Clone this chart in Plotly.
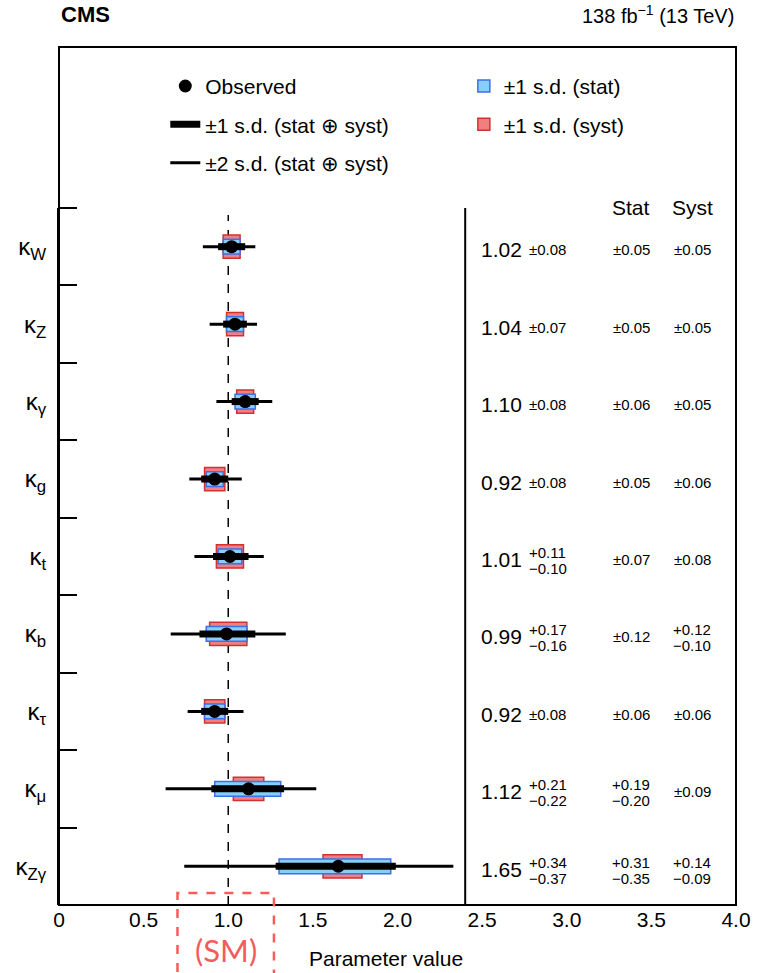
import plotly.graph_objects as go

# ---------------- data ----------------
labels = ["κ<sub>W</sub>", "κ<sub>Z</sub>", "κ<sub>γ</sub>", "κ<sub>g</sub>", "κ<sub>t</sub>",
          "κ<sub>b</sub>", "κ<sub>τ</sub>", "κ<sub>μ</sub>", "κ<sub>Zγ</sub>"]
best = [1.02, 1.04, 1.10, 0.92, 1.01, 0.99, 0.92, 1.12, 1.65]
tot_hi = [0.08, 0.07, 0.08, 0.08, 0.11, 0.17, 0.08, 0.21, 0.34]
tot_lo = [0.08, 0.07, 0.08, 0.08, 0.10, 0.16, 0.08, 0.22, 0.37]
stat_hi = [0.05, 0.05, 0.06, 0.05, 0.07, 0.12, 0.06, 0.19, 0.31]
stat_lo = [0.05, 0.05, 0.06, 0.05, 0.07, 0.12, 0.06, 0.20, 0.35]
syst_hi = [0.05, 0.05, 0.05, 0.06, 0.08, 0.12, 0.06, 0.09, 0.14]
syst_lo = [0.05, 0.05, 0.05, 0.06, 0.08, 0.10, 0.06, 0.09, 0.09]
two_sd_lo = [0.85, 0.89, 0.93, 0.77, 0.80, 0.66, 0.76, 0.63, 0.74]
two_sd_hi = [1.16, 1.17, 1.26, 1.08, 1.21, 1.34, 1.09, 1.52, 2.33]
x_tick_vals = [0, 0.5, 1.0, 1.5, 2.0, 2.5, 3.0, 3.5, 4.0]
x_tick_text = ["0", "0.5", "1.0", "1.5", "2.0", "2.5", "3.0", "3.5", "4.0"]
major_tick_vals = [0, 0.5, 1.0, 1.5, 2.0]
minor_tick_vals = [0.1, 0.2, 0.3, 0.4, 0.6, 0.7, 0.8, 0.9, 1.1, 1.2, 1.3, 1.4,
                   1.6, 1.7, 1.8, 1.9, 2.1, 2.2, 2.3]
sm_value = 1.0
pad_edge = 2.4
sm_band = [0.70, 1.27]

FONT = "Liberation Sans, Arial, Helvetica, sans-serif"

rows = list(range(len(labels)))                 # row index of each parameter
row_boundaries = [r - 0.5 for r in rows]        # tick marks between rows


def segments(lo, hi):
    xs, ys = [], []
    for l, h, r in zip(lo, hi, rows):
        xs += [l, h, None]
        ys += [r, r, None]
    return xs, ys


fig = go.Figure()

# syst boxes (red)
fig.add_trace(go.Bar(
    y=rows, x=[h + l for h, l in zip(syst_hi, syst_lo)],
    base=[b - l for b, l in zip(best, syst_lo)], orientation="h", width=0.30,
    marker=dict(color="#f08080", line=dict(color="#d03232", width=1.5)),
    name="±1 s.d. (syst)", legend="legend2", legendrank=2, legendgroup="syst",
    hoverinfo="skip"))
# stat boxes (blue)
fig.add_trace(go.Bar(
    y=rows, x=[h + l for h, l in zip(stat_hi, stat_lo)],
    base=[b - l for b, l in zip(best, stat_lo)], orientation="h", width=0.19,
    marker=dict(color="#87cefa", line=dict(color="#3d6fe8", width=1.5)),
    name="±1 s.d. (stat)", legend="legend2", legendrank=1, legendgroup="stat",
    hoverinfo="skip"))
# +-2 sd
x2s, y2s = segments(two_sd_lo, two_sd_hi)
fig.add_trace(go.Scatter(x=x2s, y=y2s, mode="lines", line=dict(color="black", width=3),
                         name="±2 s.d. (stat ⊕ syst)", legendrank=3, legendgroup="two",
                         hoverinfo="skip"))
# +-1 sd
x1s, y1s = segments([b - l for b, l in zip(best, tot_lo)], [b + h for b, h in zip(best, tot_hi)])
fig.add_trace(go.Scatter(x=x1s, y=y1s, mode="lines", line=dict(color="black", width=7),
                         name="±1 s.d. (stat ⊕ syst)", legendrank=2, legendgroup="one",
                         hoverinfo="skip"))
# observed
fig.add_trace(go.Scatter(x=best, y=rows, mode="markers", marker=dict(size=13, color="black"),
                         name="Observed", legendrank=1, legendgroup="obs"))


def fmt(v):
    return f"{v:.2f}"


ann = []
X_VAL, X_ERR, X_STAT, X_SYST = 2.745, 2.768, 3.38, 3.74


def add_err(x, hi, lo, r, anchor, size):
    if abs(hi - lo) < 1e-9:
        ann.append(dict(x=x, y=r, xref="x", yref="y", text="±" + fmt(hi), showarrow=False,
                        xanchor=anchor, yanchor="middle", yshift=-3,
                        font=dict(size=size, family=FONT, color="black")))
    else:
        ann.append(dict(x=x, y=r, xref="x", yref="y", text="+" + fmt(hi), showarrow=False,
                        xanchor=anchor, yanchor="middle", yshift=4,
                        font=dict(size=size, family=FONT, color="black")))
        ann.append(dict(x=x, y=r, xref="x", yref="y", text="−" + fmt(lo), showarrow=False,
                        xanchor=anchor, yanchor="middle", yshift=-12,
                        font=dict(size=size, family=FONT, color="black")))


for r, b in zip(rows, best):
    ann.append(dict(x=X_VAL, y=r, xref="x", yref="y", text=fmt(b), showarrow=False,
                    xanchor="right", yanchor="middle", yshift=-3,
                    font=dict(size=21, family=FONT, color="black")))
    add_err(X_ERR, tot_hi[r], tot_lo[r], r, "left", 15)
    add_err(X_STAT, stat_hi[r], stat_lo[r], r, "center", 15)
    add_err(X_SYST, syst_hi[r], syst_lo[r], r, "center", 15)

ann.append(dict(x=X_STAT, y=row_boundaries[0], xref="x", yref="y", text="Stat", showarrow=False,
                xanchor="center", yanchor="middle", font=dict(size=21, family=FONT, color="black")))
ann.append(dict(x=X_SYST, y=row_boundaries[0], xref="x", yref="y", text="Syst", showarrow=False,
                xanchor="center", yanchor="middle", font=dict(size=21, family=FONT, color="black")))
ann.append(dict(x=0, y=1, xref="paper", yref="paper", text="<b>CMS</b>", showarrow=False,
                xanchor="left", yanchor="bottom", yshift=18,
                font=dict(size=22, family=FONT, color="black")))
ann.append(dict(x=1, y=1, xref="paper", yref="paper", text="138 fb<sup>−1</sup> (13 TeV)",
                showarrow=False, xanchor="right", yanchor="bottom", yshift=18,
                font=dict(size=20, family=FONT, color="black")))
ann.append(dict(x=pad_edge, y=-0.062, xref="x", yref="paper", text="Parameter value",
                showarrow=False, xanchor="right", yanchor="middle",
                font=dict(size=21, family=FONT, color="black")))
ann.append(dict(x=sum(sm_band) / 2, y=-0.052, xref="x", yref="paper", text="(SM)",
                showarrow=False, xanchor="center", yanchor="middle",
                font=dict(size=31, family="Lato, Open Sans, sans-serif", color="#f25c5c")))

shapes = [
    dict(type="rect", xref="paper", yref="paper", x0=0, x1=1, y0=0, y1=1,
         line=dict(color="black", width=2)),
    dict(type="line", xref="x", yref="y domain", x0=pad_edge, x1=pad_edge, y0=0, y1=1,
         line=dict(color="black", width=2)),
    dict(type="line", xref="x", yref="y domain", x0=sm_value, x1=sm_value, y0=0, y1=0.99,
         line=dict(color="black", width=1.5, dash="dash"), layer="below"),
    dict(type="rect", xref="x", yref="paper", x0=sm_band[0], x1=sm_band[1], y0=-0.12, y1=0.014,
         line=dict(color="#ff5a5a", width=2.5, dash="dash")),
]

fig.update_layout(
    width=759, height=973,
    margin=dict(l=59, r=23, t=47, b=68, autoexpand=False),
    plot_bgcolor="white", paper_bgcolor="white",
    barmode="overlay",
    font=dict(family=FONT, color="black"),
    showlegend=True,
    legend=dict(x=0.157, y=0.978, xanchor="left", yanchor="top", bgcolor="rgba(0,0,0,0)",
                font=dict(size=21, family=FONT), tracegroupgap=8, traceorder="grouped"),
    legend2=dict(x=0.598, y=0.978, xanchor="left", yanchor="top", bgcolor="rgba(0,0,0,0)",
                 font=dict(size=21, family=FONT), tracegroupgap=8, traceorder="grouped"),
    xaxis=dict(range=[0, 4], tickmode="array", tickvals=x_tick_vals, ticktext=x_tick_text,
               ticks="", showgrid=False, zeroline=False, showline=False, automargin=False,
               tickfont=dict(size=21, family=FONT)),
    xaxis2=dict(range=[0, 4], overlaying="x", anchor="y", side="bottom", automargin=False,
                tickmode="array", tickvals=major_tick_vals, ticks="inside", ticklen=16,
                tickwidth=1.5, tickcolor="black", showticklabels=False, showgrid=False,
                zeroline=False, showline=False,
                minor=dict(tickmode="array", tickvals=minor_tick_vals, ticks="inside",
                           ticklen=8, tickwidth=1.5, tickcolor="black", showgrid=False)),
    yaxis=dict(type="linear", range=[rows[-1] + 0.5, rows[0] - 0.5], domain=[0, 0.8124],
               tickmode="array", tickvals=rows, ticktext=labels, ticks="",
               showline=True, linewidth=2, linecolor="black", showgrid=False,
               zeroline=False, automargin=False, ticklabelstandoff=6,
               tickfont=dict(size=24, family=FONT),
               minor=dict(tickmode="array", tickvals=row_boundaries, ticks="inside",
                          ticklen=18, tickwidth=2, tickcolor="black", showgrid=False)),
    annotations=ann,
    shapes=shapes,
)

# remove the default 8 px page margin so the figure sits at the window's top-left corner
fig.write_html("out.html", config={"displayModeBar": False},
               post_script="document.body.style.margin='0px';")
